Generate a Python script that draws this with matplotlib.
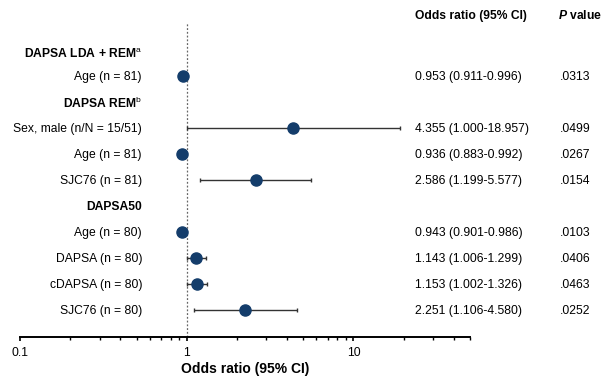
import matplotlib
matplotlib.use("Agg")
import matplotlib.pyplot as plt
from matplotlib.transforms import blended_transform_factory
import numpy as np

plt.rcParams['font.family'] = ['Liberation Sans', 'DejaVu Sans']
plt.rcParams['mathtext.fontset'] = 'custom'
plt.rcParams['mathtext.rm'] = 'Liberation Sans'
plt.rcParams['mathtext.bf'] = 'Liberation Sans:bold'
plt.rcParams['mathtext.bfit'] = 'Liberation Sans:bold:italic'

headers = ["DAPSA LDA + REM$^{\\mathrm{a}}$", "DAPSA REM$^{\\mathrm{b}}$", "DAPSA50"]
header_rows = [0.1, 2, 6]
labels = ["Age (n = 81)", "Sex, male (n/N = 15/51)", "Age (n = 81)", "SJC76 (n = 81)",
          "Age (n = 80)", "DAPSA (n = 80)", "cDAPSA (n = 80)", "SJC76 (n = 80)"]
rows = [1, 3, 4, 5, 7, 8, 9, 10]
odds = [0.953, 4.355, 0.936, 2.586, 0.943, 1.143, 1.153, 2.251]
lower = [0.911, 1.000, 0.883, 1.199, 0.901, 1.006, 1.002, 1.106]
upper = [0.996, 18.957, 0.992, 5.577, 0.986, 1.299, 1.326, 4.580]
ci_text = ["0.953 (0.911-0.996)", "4.355 (1.000-18.957)", "0.936 (0.883-0.992)",
           "2.586 (1.199-5.577)", "0.943 (0.901-0.986)", "1.143 (1.006-1.299)",
           "1.153 (1.002-1.326)", "2.251 (1.106-4.580)"]
pvals = [".0313", ".0499", ".0267", ".0154", ".0103", ".0406", ".0463", ".0252"]

W, H = 603, 377
fig = plt.figure(figsize=(W/100, H/100), dpi=100)
ax = fig.add_axes([20/W, 1-337/H, (470-20)/W, (337-23)/H])
ax.set_xscale('log')
ax.set_xlim(0.1, 50)
ax.set_ylim(11.05, -1.04)

navy = '#143d6b'
odds_a = np.array(odds)
err = [odds_a - np.array(lower), np.array(upper) - odds_a]
ax.errorbar(odds, rows, xerr=err, fmt='o', color=navy, ecolor='#333333',
            elinewidth=1.0, capsize=1.6, capthick=1.0, markersize=8, zorder=3)
ax.axvline(1, color='#666666', linestyle=(0, (1.5, 1.5)), linewidth=0.9, zorder=1)

for s in ['top', 'right', 'left']:
    ax.spines[s].set_visible(False)
ax.spines['bottom'].set_linewidth(1.4)
ax.set_yticks([])
ax.set_xticks([0.1, 1, 10])
ax.set_xticklabels(["0.1", "1", "10"])
ax.tick_params(axis='x', which='major', length=3, width=1.2, labelsize=8.7, pad=4)
ax.tick_params(axis='x', which='minor', length=2.2, width=1.0)
ax.set_xlabel("Odds ratio (95% CI)", fontsize=10, fontweight='bold', labelpad=2)

tr = blended_transform_factory(fig.transFigure, ax.transData)
lab_x = 142/W
fs = 8.7
for h, r in zip(headers, header_rows):
    ax.text(lab_x, r, h, transform=tr, ha='right', va='center_baseline', fontsize=fs,
            fontweight='bold', clip_on=False)
for l, r, c, p in zip(labels, rows, ci_text, pvals):
    ax.text(lab_x, r, l, transform=tr, ha='right', va='center_baseline', fontsize=fs, clip_on=False)
    ax.text(415/W, r, c, transform=tr, ha='left', va='center_baseline', fontsize=fs, clip_on=False)
    ax.text(560/W, r, p, transform=tr, ha='left', va='center_baseline', fontsize=fs, clip_on=False)

fig.text(415/W, 1-14/H, "Odds ratio (95% CI)", ha='left', va='center_baseline', fontsize=fs, fontweight='bold')
fig.text(558/W, 1-14/H, "$\\mathbfit{P}$ value", ha='left', va='center_baseline', fontsize=fs, fontweight='bold')

fig.savefig("out.png", dpi=100)
